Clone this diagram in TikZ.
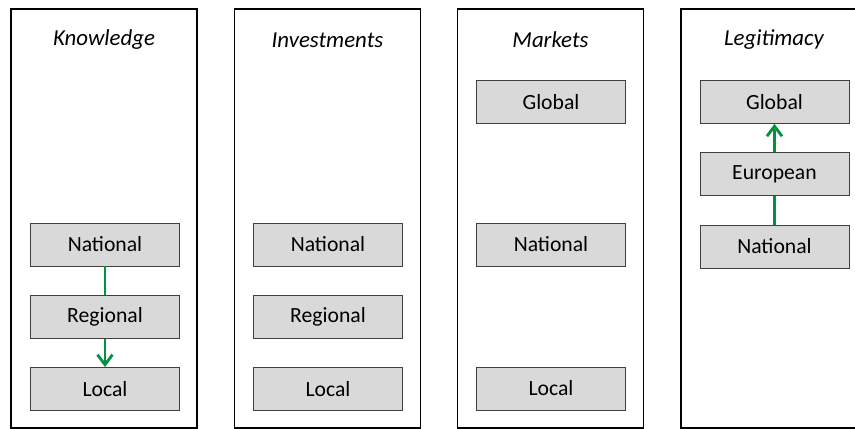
\documentclass[tikz,border=0pt]{standalone}
\usepackage{fontspec}
\setmainfont{Carlito}
\usepackage{tikz}
\usetikzlibrary{arrows.meta, positioning}
\definecolor{boxgray}{RGB}{217,217,217}
\definecolor{flowgreen}{RGB}{0,146,63}

\begin{document}
\begin{tikzpicture}[x=0.03cm, y=-0.03cm,
    panel/.style={draw, line width=0.9pt, minimum width=5.58cm, minimum height=12.57cm},
    ptitle/.style={font=\fontsize{19.5}{21}\selectfont\itshape},
    lvlbox/.style={draw=black!75, fill=boxgray, line width=0.6pt, minimum width=4.47cm, minimum height=1.29cm, font=\fontsize{18.5}{20}\selectfont},
    flow/.style={draw=flowgreen, line width=2.4pt}
]
\clip (0,0) rectangle (855,429);

% Knowledge column
\node[panel] (kpanel) at (104,218.5) {};
\node[ptitle] (ktitle) at (104,40) {Knowledge};
\node[lvlbox] (knat) at (105,244.5) {National};
\node[lvlbox, below=0.855cm of knat] (kreg) {Regional};
\node[lvlbox, below=0.855cm of kreg] (kloc) {Local};

% Investments column
\node[panel] (ipanel) at (327.5,218.5) {};
\node[ptitle] (ititle) at (327.5,40) {Investments};
\node[lvlbox] (inat) at (328,244.5) {National};
\node[lvlbox, below=0.855cm of inat] (ireg) {Regional};
\node[lvlbox, below=0.855cm of ireg] (iloc) {Local};

% Markets column
\node[panel] (mpanel) at (550.5,218.5) {};
\node[ptitle] (mtitle) at (550.5,40) {Markets};
\node[lvlbox] (mglob) at (551,102) {Global};
\node[lvlbox] (mnat) at (551,244.5) {National};
\node[lvlbox] (mloc) at (551,388.5) {Local};

% Legitimacy column (cut at right edge)
\node[panel] (lpanel) at (774,218.5) {};
\node[ptitle] (ltitle) at (774,40) {Legitimacy};
\node[lvlbox] (lglob) at (774.5,102) {Global};
\node[lvlbox, below=0.855cm of lglob] (leur) {European};
\node[lvlbox, below=0.855cm of leur] (lnat) {National};

% Green flows
\draw[flow] (knat) -- (kreg);
\draw[flow, -{Straight Barb[length=3mm, width=4.5mm]}] (kreg) -- (kloc);
\draw[flow] (lnat) -- (leur);
\draw[flow, -{Straight Barb[length=3mm, width=4.5mm]}] (leur) -- (lglob);

\end{tikzpicture}
\end{document}
